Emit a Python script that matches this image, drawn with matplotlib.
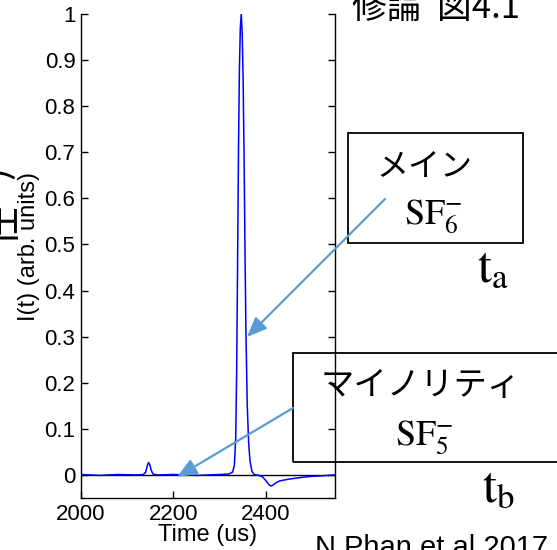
''' Recreate the slide with the SF6 / SF5 arrival-time trace.
'''
import matplotlib
matplotlib.use('Agg')
import matplotlib.pyplot as plt
from matplotlib.patches import Rectangle

plt.rcParams['font.family'] = ['Liberation Sans', 'DejaVu Sans']
plt.rcParams['mathtext.fontset'] = 'stix'

# trace
time_us = [2000, 2040, 2080, 2120, 2135, 2140, 2143, 2146, 2149, 2152, 2156,
           2165, 2200, 2250, 2300, 2320, 2328, 2332, 2335, 2337, 2339, 2341,
           2343, 2345, 2347, 2349, 2351, 2353, 2355, 2357, 2360, 2363, 2366,
           2370, 2375, 2385, 2393, 2400, 2406, 2411, 2416, 2422, 2430, 2440,
           2451, 2465, 2480, 2500, 2520, 2550]
intensity = [0.001, -0.001, 0.001, 0.0, 0.001, 0.006, 0.018, 0.027, 0.022,
             0.01, 0.002, 0.0, 0.001, -0.001, 0.001, 0.002, 0.006, 0.02, 0.08,
             0.22, 0.45, 0.7, 0.88, 0.97, 1.0, 0.96, 0.86, 0.7, 0.5, 0.32,
             0.15, 0.07, 0.03, 0.008, 0.001, -0.001, -0.004, -0.012, -0.02,
             -0.024, -0.022, -0.017, -0.013, -0.011, -0.009, -0.007, -0.005,
             -0.003, -0.002, 0.0]

x_ticks = [2000, 2200, 2400]
y_ticks = [0, 0.1, 0.2, 0.3, 0.4, 0.5, 0.6, 0.7, 0.8, 0.9, 1]
y_tick_labels = ['0', '0.1', '0.2', '0.3', '0.4', '0.5', '0.6', '0.7', '0.8', '0.9', '1']

W, H = 557, 550
JP = ['Noto Sans CJK JP', 'DejaVu Sans']
ARROW_COLOR = '#5b9bd5'


def px(x, y):
    ''' pixel position (from top-left) -> figure fraction '''
    return x / W, 1 - y / H


fig = plt.figure(figsize=(W / 100, H / 100), dpi=100)
ax = fig.add_axes([81 / W, 1 - 498 / H, 254 / W, 484 / H])

ax.plot(time_us, intensity, color='#0000ff', lw=1.1)
ax.axhline(0, color='black', lw=1.0, zorder=1)

ax.set_xlim(2000, 2550)
ax.set_ylim(-0.05, 1.0)
ax.set_xticks(x_ticks)
ax.set_yticks(y_ticks)
ax.set_yticklabels(y_tick_labels)
ax.tick_params(direction='in', length=5, width=1, labelsize=16, right=True, pad=4)
ax.spines['top'].set_visible(False)
for s in ['left', 'right', 'bottom']:
    ax.spines[s].set_linewidth(1.0)

ax.set_xlabel('Time (us)', fontsize=17, va='center')
ax.xaxis.set_label_coords(0.5, (498 - 535) / 484)
ax.set_ylabel('I(t) (arb. units)', fontsize=17, va='center')
ax.yaxis.set_label_coords((29 - 81) / 254, 0.52)

# leftover of a Japanese label clipped at the left edge
fig.text(*px(4, 226), '任', family=JP, fontsize=29, rotation=90,
         ha='center', va='center')
fig.text(*px(-6, 172), ')', family=JP, fontsize=29, rotation=90,
         ha='center', va='center')

# slide texts
fig.text(*px(352, 18), '修論  図4.1', family=JP, fontsize=25, ha='left', va='baseline')
fig.text(*px(315, 556), 'N.Phan et al 2017', fontsize=21, ha='left', va='baseline')

# boxes
x0, y0 = px(348, 243)
fig.add_artist(Rectangle((x0, y0), (523 - 348) / W, (243 - 133) / H,
                         transform=fig.transFigure, fill=False, ec='black', lw=1.3))
x0, y0 = px(293, 462)
fig.add_artist(Rectangle((x0, y0), (620 - 293) / W, (462 - 353) / H,
                         transform=fig.transFigure, fill=False, ec='black', lw=1.3))

fig.text(*px(424, 166), 'メイン', family=JP, fontsize=23, ha='center', va='center')
fig.text(*px(433, 223), r'$\mathrm{SF}_{6}^{-}$', fontsize=26, ha='center', va='baseline')
fig.text(*px(421, 386), 'マイノリティ', family=JP, fontsize=24, ha='center', va='center')
fig.text(*px(424, 444), r'$\mathrm{SF}_{5}^{-}$', fontsize=26, ha='center', va='baseline')

fig.text(*px(477, 281), r'$\mathrm{t}_{\mathrm{a}}$', fontsize=36, ha='left', va='baseline')
fig.text(*px(482, 501), r'$\mathrm{t}_{\mathrm{b}}$', fontsize=36, ha='left', va='baseline')

# arrows
arrow_props = dict(arrowstyle='-|>,head_length=0.6,head_width=0.25', color=ARROW_COLOR,
                   lw=1.6, shrinkA=0, shrinkB=0, mutation_scale=20)
fig.add_artist(plt.Annotation('', xy=px(247, 337), xytext=px(385, 199),
                              xycoords='figure fraction', textcoords='figure fraction',
                              arrowprops=arrow_props))
fig.add_artist(plt.Annotation('', xy=px(177, 477), xytext=px(293, 408),
                              xycoords='figure fraction', textcoords='figure fraction',
                              arrowprops=arrow_props))

fig.savefig('out.png', dpi=100)
